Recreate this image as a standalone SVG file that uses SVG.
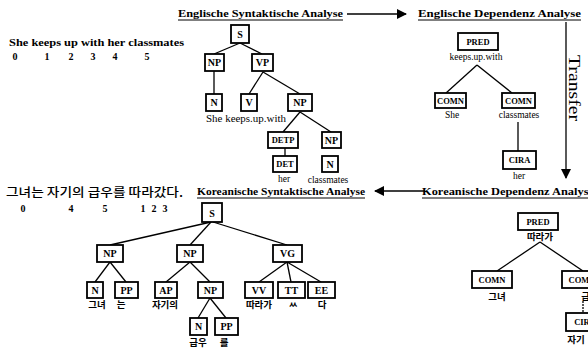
<svg xmlns="http://www.w3.org/2000/svg" width="588" height="349" viewBox="0 0 588 349">
<style>
.box{fill:#fff;stroke:#000;stroke-width:1.8}
.lbl{font-family:"Liberation Serif",serif;font-weight:bold;font-size:10px;text-anchor:middle;fill:#000}
.lbs{font-family:"Liberation Serif",serif;font-weight:bold;font-size:8.5px;text-anchor:middle;fill:#000}
.leaf{font-family:"Liberation Serif",serif;font-size:9.5px;fill:#000}
.ko{font-family:"Noto Sans CJK KR",sans-serif;font-size:9.5px;font-weight:bold;text-anchor:middle;fill:#000}
.title{font-family:"Liberation Serif",serif;font-weight:bold;font-size:11px;fill:#000}
.sent{font-family:"Liberation Serif",serif;font-weight:bold;font-size:11px;fill:#000}
.num{font-family:"Liberation Serif",serif;font-weight:bold;font-size:10px;text-anchor:middle;fill:#000}
.edge{stroke:#000;stroke-width:1.3;fill:none}
.ul{stroke:#000;stroke-width:1}
</style>
<defs>
<marker id="ah" markerWidth="10" markerHeight="10" refX="9" refY="5" orient="auto" markerUnits="userSpaceOnUse" viewBox="0 0 10 10">
<path d="M0,0 L10,5 L0,10 z" fill="#000"/>
</marker>
</defs>

<g id="titles">
<text class="title" x="178" y="17" textLength="165" lengthAdjust="spacingAndGlyphs">Englische Syntaktische Analyse</text>
<line class="ul" x1="178" y1="20" x2="343" y2="20"/>
<text class="title" x="418" y="17" textLength="163" lengthAdjust="spacingAndGlyphs">Englische Dependenz Analyse</text>
<line class="ul" x1="418" y1="20" x2="581" y2="20"/>
<text class="title" x="197" y="195" textLength="168" lengthAdjust="spacingAndGlyphs">Koreanische Syntaktische Analyse</text>
<line class="ul" x1="197" y1="198" x2="365" y2="198"/>
<text class="title" x="422" y="195" textLength="172" lengthAdjust="spacingAndGlyphs">Koreanische Dependenz Analyse</text>
<line class="ul" x1="422" y1="198" x2="588" y2="198"/>
<text x="569" y="55" transform="rotate(90 569 55)" style="font-family:'Liberation Serif',serif;font-size:17px" textLength="66" lengthAdjust="spacingAndGlyphs">Transfer</text>
</g>

<g id="sentences">
<text class="sent" x="9" y="46" textLength="175" lengthAdjust="spacingAndGlyphs">She keeps up with her classmates</text>
<text class="num" x="15" y="60">0</text>
<text class="num" x="47" y="60">1</text>
<text class="num" x="71" y="60">2</text>
<text class="num" x="93" y="60">3</text>
<text class="num" x="115" y="60">4</text>
<text class="num" x="147" y="60">5</text>
<text x="6" y="197" style="font-family:'Noto Sans CJK KR',sans-serif;font-size:12px;font-weight:500" textLength="177" lengthAdjust="spacingAndGlyphs">그녀는 자기의 급우를 따라갔다.</text>
<text class="num" x="23" y="212">0</text>
<text class="num" x="71" y="212">4</text>
<text class="num" x="105" y="212">5</text>
<text class="num" x="143" y="212">1</text>
<text class="num" x="154" y="212">2</text>
<text class="num" x="165" y="212">3</text>
</g>

<g id="connectors">
<line class="edge" x1="347" y1="14" x2="406" y2="14" stroke-width="2.5" marker-end="url(#ah)"/>
<line class="edge" x1="425" y1="191" x2="375" y2="191" stroke-width="2.5" marker-end="url(#ah)"/>
<line class="edge" x1="566" y1="22" x2="566" y2="178" stroke-width="2" marker-end="url(#ah)"/>
<line class="edge" x1="240" y1="43" x2="214" y2="54"/>
<line class="edge" x1="240" y1="43" x2="262" y2="54"/>
<line class="edge" x1="214" y1="71" x2="214" y2="94"/>
<line class="edge" x1="263" y1="72" x2="249" y2="94"/>
<line class="edge" x1="263" y1="72" x2="300" y2="94"/>
<line class="edge" x1="300" y1="112" x2="283" y2="132"/>
<line class="edge" x1="300" y1="112" x2="331" y2="132"/>
<line class="edge" x1="285" y1="148" x2="285" y2="156"/>
<line class="edge" x1="477" y1="65" x2="446" y2="93"/>
<line class="edge" x1="477" y1="65" x2="512" y2="93"/>
<line class="edge" x1="518" y1="122" x2="518" y2="151"/>
<line class="edge" x1="211" y1="222" x2="110" y2="245"/>
<line class="edge" x1="211" y1="222" x2="190" y2="245"/>
<line class="edge" x1="213" y1="222" x2="287" y2="245"/>
<line class="edge" x1="110" y1="262" x2="95" y2="282"/>
<line class="edge" x1="110" y1="262" x2="126" y2="282"/>
<line class="edge" x1="190" y1="262" x2="166" y2="282"/>
<line class="edge" x1="190" y1="262" x2="210" y2="282"/>
<line class="edge" x1="287" y1="262" x2="259" y2="282"/>
<line class="edge" x1="287" y1="262" x2="291" y2="282"/>
<line class="edge" x1="287" y1="262" x2="321" y2="282"/>
<line class="edge" x1="210" y1="298" x2="198" y2="318"/>
<line class="edge" x1="210" y1="298" x2="226" y2="318"/>
<line class="edge" x1="540" y1="242" x2="497" y2="271"/>
<line class="edge" x1="540" y1="242" x2="583" y2="271"/>
<line class="edge" x1="583" y1="301" x2="583" y2="313" stroke-dasharray="2 1"/>
</g>

<g id="es-S"><rect class="box" x="231" y="25" width="18" height="18"/><text class="lbl" x="240" y="37.5">S</text></g>
<g id="es-NP1"><rect class="box" x="205" y="54" width="19" height="17"/><text class="lbl" x="214.5" y="66">NP</text></g>
<g id="es-VP"><rect class="box" x="252" y="54" width="21" height="17"/><text class="lbl" x="262.5" y="66">VP</text></g>
<g id="es-N"><rect class="box" x="206" y="94" width="16" height="17"/><text class="lbl" x="214" y="106">N</text></g>
<g id="es-V"><rect class="box" x="241" y="94" width="16" height="17"/><text class="lbl" x="249" y="106">V</text></g>
<g id="es-NP2"><rect class="box" x="288" y="94" width="24" height="17"/><text class="lbl" x="300" y="106">NP</text></g>
<g id="es-DETP"><rect class="box" x="268" y="132" width="30" height="16"/><text class="lbs" x="283" y="143">DETP</text></g>
<g id="es-NP3"><rect class="box" x="322" y="132" width="19" height="16"/><text class="lbl" x="331.5" y="143.5">NP</text></g>
<g id="es-DET"><rect class="box" x="273" y="156" width="24" height="16"/><text class="lbs" x="285" y="167">DET</text></g>
<g id="es-N2"><rect class="box" x="322" y="156" width="16" height="16"/><text class="lbl" x="330" y="167.5">N</text></g>
<g id="es-leaves">
<text class="leaf" x="206" y="122" textLength="80" lengthAdjust="spacingAndGlyphs">She keeps.up.with</text>
<text class="leaf" x="284" y="182" text-anchor="middle">her</text>
<text class="leaf" x="328" y="183" text-anchor="middle">classmates</text>
</g>

<g id="ed-PRED"><rect class="box" x="458" y="33" width="40" height="17"/><text class="lbs" x="478" y="44.5">PRED</text><text class="leaf" x="476" y="60" text-anchor="middle">keeps.up.with</text></g>
<g id="ed-COMN1"><rect class="box" x="435" y="93" width="31" height="15"/><text class="lbs" x="450.5" y="103.5">COMN</text><text class="leaf" x="452" y="118" text-anchor="middle">She</text></g>
<g id="ed-COMN2"><rect class="box" x="502" y="93" width="33" height="15"/><text class="lbs" x="518.5" y="103.5">COMN</text><text class="leaf" x="519" y="118" text-anchor="middle">classmates</text></g>
<g id="ed-CIRA"><rect class="box" x="503" y="151" width="33" height="18"/><text class="lbs" x="519.5" y="163">CIRA</text><text class="leaf" x="519" y="179" text-anchor="middle">her</text></g>

<g id="ks-S"><rect class="box" x="202" y="203" width="20" height="19"/><text class="lbl" x="212" y="216.5">S</text></g>
<g id="ks-NP1"><rect class="box" x="97" y="245" width="26" height="17"/><text class="lbl" x="110" y="257">NP</text></g>
<g id="ks-NP2"><rect class="box" x="177" y="245" width="26" height="17"/><text class="lbl" x="190" y="257">NP</text></g>
<g id="ks-VG"><rect class="box" x="273" y="245" width="29" height="17"/><text class="lbl" x="287.5" y="257">VG</text></g>
<g id="ks-N"><rect class="box" x="87" y="282" width="16" height="16"/><text class="lbl" x="95" y="293.5">N</text></g>
<g id="ks-PP"><rect class="box" x="115" y="282" width="23" height="16"/><text class="lbl" x="126.5" y="293.5">PP</text></g>
<g id="ks-AP"><rect class="box" x="155" y="282" width="22" height="16"/><text class="lbl" x="166" y="293.5">AP</text></g>
<g id="ks-NP3"><rect class="box" x="198" y="282" width="25" height="16"/><text class="lbl" x="210.5" y="293.5">NP</text></g>
<g id="ks-VV"><rect class="box" x="245" y="282" width="28" height="16"/><text class="lbl" x="259" y="293.5">VV</text></g>
<g id="ks-TT"><rect class="box" x="278" y="282" width="27" height="16"/><text class="lbl" x="291.5" y="293.5">TT</text></g>
<g id="ks-EE"><rect class="box" x="308" y="282" width="27" height="16"/><text class="lbl" x="321.5" y="293.5">EE</text></g>
<g id="ks-N2"><rect class="box" x="190" y="318" width="17" height="17"/><text class="lbl" x="198.5" y="330">N</text></g>
<g id="ks-PP2"><rect class="box" x="215" y="318" width="23" height="17"/><text class="lbl" x="226.5" y="330">PP</text></g>
<g id="ks-leaves">
<text class="ko" x="97" y="308">그녀</text>
<text class="ko" x="121" y="308">는</text>
<text class="ko" x="165" y="308">자기의</text>
<text class="ko" x="259" y="308">따라가</text>
<text class="ko" x="293" y="308">ㅆ</text>
<text class="ko" x="322" y="308">다</text>
<text class="ko" x="198" y="346">급우</text>
<text class="ko" x="224" y="346">를</text>
</g>

<g id="kd-PRED"><rect class="box" x="518" y="213" width="40" height="17"/><text class="lbs" x="538" y="224.5">PRED</text><text class="ko" x="540" y="240">따라가</text></g>
<g id="kd-COMN1"><rect class="box" x="472" y="271" width="40" height="17"/><text class="lbs" x="492" y="282.5">COMN</text><text class="ko" x="497" y="300">그녀</text></g>
<g id="kd-COMN2"><rect class="box" x="562" y="271" width="40" height="17"/><text class="lbs" x="582" y="282.5">COMN</text><text class="ko" x="590" y="300">급우</text></g>
<g id="kd-CIRA"><rect class="box" x="566" y="313" width="38" height="18"/><text class="lbs" x="585" y="325">CIRA</text><text class="ko" x="576" y="343">자기</text></g>
</svg>
